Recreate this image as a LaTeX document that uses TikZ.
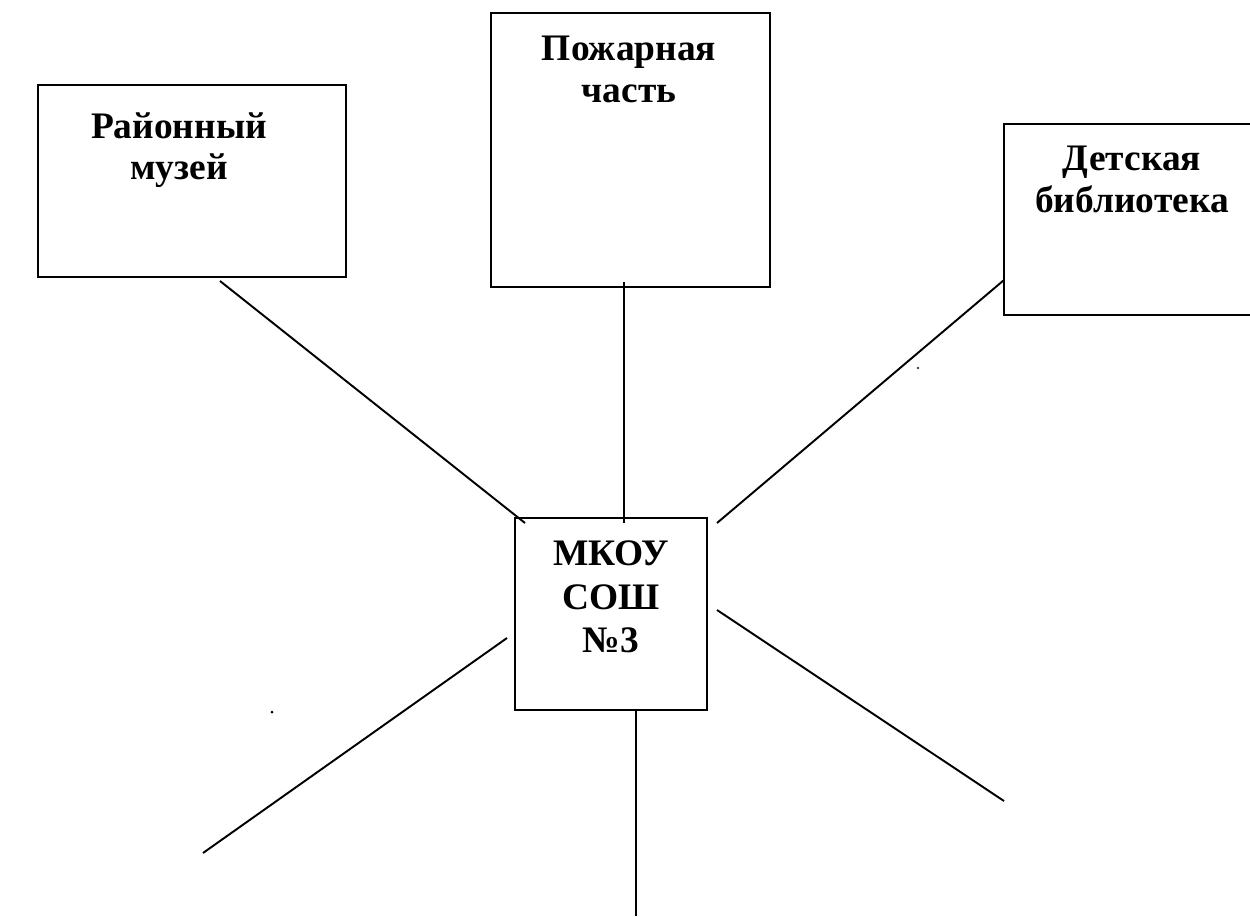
\documentclass[tikz,border=0pt]{standalone}
\usepackage{fontspec}
\setmainfont{Liberation Serif}
\usetikzlibrary{positioning}
\tikzset{
  place/.style={draw, line width=1.4pt, inner sep=0pt},
  caption/.style={font=\bfseries\fontsize{21.3}{23.5}\selectfont, align=center, inner sep=0pt, anchor=north},
  link/.style={line width=1.1pt},
}
\begin{document}
\begin{tikzpicture}[x=0.02cm, y=-0.02cm]
	\useasboundingbox (0,0) rectangle (1250,916);
	\node[place, minimum width=6.16cm, minimum height=3.84cm] (museum) at (192,181) {};
	\node[place, minimum width=5.58cm, minimum height=5.48cm] (fire) at (630.5,150) {};
	\node[place, minimum width=6cm, minimum height=3.82cm] (library) at (1154,219.5) {};
	\node[place, minimum width=3.84cm, minimum height=3.84cm] (school) at (611,614) {};
	\node[caption] (museumtxt) at (179,112) {Районный\\музей};
	\node[caption] (firetxt) at (629,36) {Пожарная\\часть};
	\node[caption] (librarytxt) at (1132,146) {Детская\\библиотека};
	\node[caption, font=\bfseries\fontsize{21.3}{25}\selectfont] (schooltxt) at (611,540) {МКОУ\\СОШ\\№3};
	% connector ends
	\coordinate (museumend) at (220,281);
	\coordinate (fireend) at (624,282);
	\coordinate (libraryend) at (1004,280);
	\coordinate (schoolnw) at (525,523);
	\coordinate (schooln) at (624,523);
	\coordinate (schoolne) at (717,523);
	\coordinate (schoolw) at (507,638);
	\coordinate (schools) at (636,710);
	\coordinate (schoole) at (717,610);
	\coordinate (freesw) at (203,853);
	\coordinate (frees) at (636,916);
	\coordinate (freese) at (1004,801);
	\draw[link] (museumend) -- (schoolnw);
	\draw[link] (fireend) -- (schooln);
	\draw[link] (libraryend) -- (schoolne);
	\draw[link] (schoolw) -- (freesw);
	\draw[link] (schools) -- (frees);
	\draw[link] (schoole) -- (freese);
	% specks
	\fill (918,368) circle (1.2);
	\fill (272,712) circle (1.5);
\end{tikzpicture}
\end{document}
